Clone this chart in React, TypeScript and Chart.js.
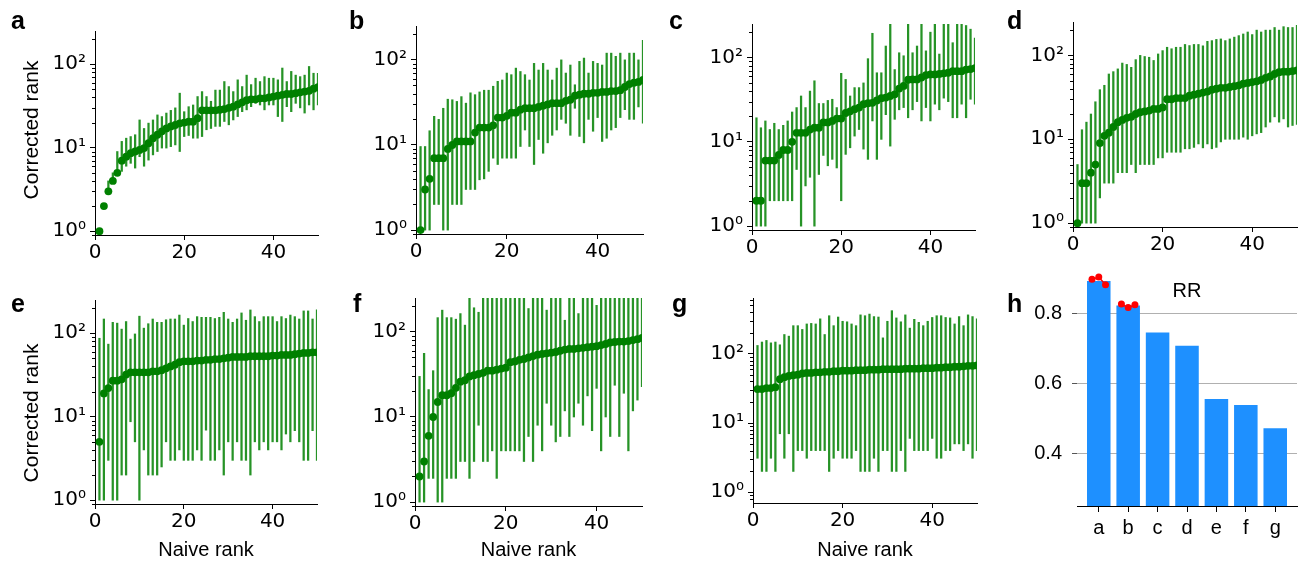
import React, { useEffect, useRef } from "react";
import { Chart, registerables } from "chart.js";

Chart.register(...registerables);
Chart.defaults.color = "#000";
Chart.defaults.font.family = "DejaVu Sans";

// ---------- data ----------
const naiveRank = [1,2,3,4,5,6,7,8,9,10,11,12,13,14,15,16,17,18,19,20,21,22,23,24,25,26,27,28,29,30,31,32,33,34,35,36,37,38,39,40,41,42,43,44,45,46,47,48,49,50];
const xTickValues = [0, 20, 40];

const aMid = [1,2,3,4,5,7,7.8,8.6,9,9.4, 9.9,11.3,13,14.3,15.7,17,18,18.7,19.6,20, 20.5,20.5,22.6,28,28,28,28,28.5,29,30, 31,33,35,37,38,38,39,39,40,41, 42,43,44,44,45,46,47,48,51,53];
const aLo = [1,2,3,4,5,5.2,6,6.5,5.7,7.8, 6,7.1,8.2,9,9.9,9.9,10.3,10.8,9,13.6, 14,13,13,13.6,16.4,17,18,18,20.6,18.8, 21.5,23.6,27,28.4,31,34,32.5,28.4,32.5,32.5, 23.6,20.6,31,27,34,30,26,32.5,28.4,32.5];
const aHi = [1,2,4,5,9,11.9,13,13.6,14.3,21.5, 17,19.7,21.5,24.7,23.6,26,28,30,45,27, 31,32.5,41,47,41,36,49,49,62,54, 47,65,54,74,57,68,62,71,68,68, 65,90,62,82,74,71,74,94,78,78];

const bMid = [1,3,4,7,7,7,9,10,11,11, 11,11,14,16,16,16,17,21,21,22, 24,24,26,27,27,27,28,29,30,31, 31,31,33,34,38,39,40,40,41,41, 42,42,43,43,44,48,52,54,55,58];
const bLo = [1,1,1,2,2,1,1,2,2,2, 3,3,3,3.9,4,4.9,7,5.9,7,7, 7,7,9.6,15,9.6,5.9,11.6,8,10.6,13, 15,20,18,13,27,12.6,10.6,20,14.5,21, 11,12,15,16,21,26,20,20,28,18];
const bHi = [9.6,9.6,14.7,21.7,20,27,34.5,34,32.5,37, 31,41,39,42,44,44,49,56,58,70, 67,80,73,67,58,91,76,91,76,58, 80,100,70,87,51,96,105,70,96,91, 87,120,120,110,120,100,120,120,100,170];

const cMid = [2,2,6,6,6,7,8,8,10,12.8, 12.8,12.8,14,14.7,14.7,17,17,17.7,18.9,18.9, 22,23,24.4,25.5,28,28.7,29,31,33,33.5, 35,36.6,42.8,46,54.5,55,55,58,62,63, 63,64,65,66,69,69,69,72,73,75];
const cLo = [1,1,1,2,2,2,2,2,2,4.7, 1,3,3.8,1,4.1,6.9,5.2,6.2,4.9,2, 7.1,8.5,11.7,14,8.2,6.2,17.7,6.2,10.7,21, 8.9,18.5,24,25.5,19.3,24,30,17.7,25.5,17.7, 28,24,33,30,19.3,19.3,28,19.3,32,28];
const cHi = [19.3,14.7,17.7,14,16.6,14,15.7,17.7,22.6,25.5, 35,25.5,40,53,28.5,28.5,31,32,25.5,65, 55,35,44,44,50,97,194,66,66,137, 300,72,114,105,300,114,137,300,120,200, 300,110,300,300,150,300,300,240,217,170];

const dMid = [1,3,3,4,5,9,11,12,14,16, 17,18,18.5,20,21,21.5,22,23,23,24, 30,30,31,31,31,33,34,35,36,37, 39,40,41,41,42,43,44,46,47,48, 49,51,54,56,60,63,64,64,65,66];
const dLo = [1,1,1,1,1,2,3,3,3,4, 4,4,5,4,5,5,5,5,6,6, 7,7,7,7,7.7,7.7,8,8.8,7.9,8.8, 7.7,8,9.3,10,10,10,10,10.6,10,11, 11.6,12,14,16,18.5,16,17.5,14,14.6,15];
const dHi = [5,13,16,20,28,39,44,60,64,69, 81,78,72,89,100,97,95,87,104,114, 125,120,125,125,135,131,135,135,130,147, 150,155,157,150,157,165,172,180,190,177, 200,190,200,200,215,200,220,215,215,228];

const eMid = [5,19,22,27,27,28,32,34,34,34, 34,34,35,35,36,38,40,42,45,46, 46,46,47,47,48,48,49,49,50,51, 52,52,52,52,53,53,53,53,53,54, 54,55,55,55,56,57,58,58,59,59];
const eLo = [1,1,3,1,1,2,2,8.7,5,1, 4,2,2,2,2.5,5,3,3,4,3, 3,3,4,3,6.9,3,3,4,2,5, 3,5,3,3,2,5,4,5,4,5, 5,4,6.2,5,6.8,5,3,3,6.8,3];
const eHi = [87,148,74,135,132,112,138,85,98,160, 115,130,148,135,135,145,148,148,165,125, 150,138,158,155,155,155,150,155,178,148, 135,148,175,143,190,158,138,158,158,158, 138,158,150,165,158,148,185,185,148,190];

const fMid = [2,3,6,10,15,18,18,19,22,26, 27,30,31,32,33,35,35,36,37,38, 44,45,47,48,50,52,54,55,56,57, 58,60,62,63,63,64,65,66,67,68, 70,72,75,76,77,77,78,80,82,85];
const fLo = [1,1,1.9,1.9,1,1,1.9,1.9,1.9,3, 3,1.9,3,8,3,3,4,1.9,4,4, 4,4,4,3,5.9,3,8,4,14.5,8, 5.1,5.9,11.8,5.9,10,14.5,8,17.7,6.9,21.7, 4,10,5.9,23.6,5.9,19,4,11.8,15.8,22.7];
const fHi = [30,56,21,35,147,180,147,147,141,164, 120,300,192,170,300,300,300,300,300,300, 300,300,300,300,188,300,300,300,180,300, 300,300,137,300,300,164,300,300,300,205, 300,300,300,300,300,300,300,300,300,300];

const gMid = [31,31,32,32,33,43,46,48,49,50, 52,53,53,54,54,55,55,56,56,57, 57,57,58,58,58,59,59,59,60,60, 60,60,60,61,61,61,61,62,62,62, 63,63,64,64,65,65,66,67,67,68];
const gLo = [3.1,2,2,3.1,2,7,3.1,7,2,4, 4,3.1,4,4,4,4,2,3.1,4,3.1, 3.1,3.1,4,2,2,2,3.1,2,4,4, 2,2,4,2,6,4,4,4,4,6, 3.1,3.1,4,4,5,5,4,5,3.1,4];
const gHi = [132,148,156,144,148,135,190,180,255,255, 225,270,275,270,320,190,355,255,340,295, 290,270,255,365,355,375,345,340,170,295, 420,330,290,365,235,315,285,255,295,335, 355,355,335,330,270,345,255,365,345,320];

const rrCategories = ["a", "b", "c", "d", "e", "f", "g"];
const rrValues = [0.892, 0.822, 0.745, 0.707, 0.555, 0.538, 0.472];
const rrTicks = [0.4, 0.6, 0.8];
const replicateOffsets = [-0.23, 0, 0.23];
const rrRepsA = [0.897, 0.903, 0.881];
const rrRepsB = [0.826, 0.816, 0.824];

const superscripts = ["⁰", "¹", "²", "³"];

// ---------- layout (page pixels) ----------
const rankPanels: any[] = [
  { id: "a", mid: aMid, lo: aLo, hi: aHi, left: 0, top: 0, width: 330, height: 265, plotLeft: 95, plotRight: 318, plotTop: 31, plotBottom: 235, yMin: 0.9, yMax: 250, xTitle: false },
  { id: "b", mid: bMid, lo: bLo, hi: bHi, left: 330, top: 0, width: 330, height: 265, plotLeft: 416, plotRight: 643, plotTop: 26, plotBottom: 234, yMin: 0.9, yMax: 250, xTitle: false },
  { id: "c", mid: cMid, lo: cLo, hi: cHi, left: 660, top: 0, width: 330, height: 265, plotLeft: 752, plotRight: 975, plotTop: 24, plotBottom: 230, yMin: 0.9, yMax: 250, xTitle: false },
  { id: "d", mid: dMid, lo: dLo, hi: dHi, left: 990, top: 0, width: 311, height: 265, plotLeft: 1073, plotRight: 1297, plotTop: 22, plotBottom: 227, yMin: 0.9, yMax: 250, xTitle: false },
  { id: "e", mid: eMid, lo: eLo, hi: eHi, left: 0, top: 270, width: 330, height: 290, plotLeft: 95, plotRight: 317, plotTop: 300, plotBottom: 504, yMin: 0.9, yMax: 250, xTitle: true },
  { id: "f", mid: fMid, lo: fLo, hi: fHi, left: 330, top: 270, width: 330, height: 290, plotLeft: 415, plotRight: 642, plotTop: 298, plotBottom: 506, yMin: 0.9, yMax: 250, xTitle: true },
  { id: "g", mid: gMid, lo: gLo, hi: gHi, left: 660, top: 270, width: 330, height: 290, plotLeft: 753, plotRight: 977, plotTop: 298, plotBottom: 503, yMin: 0.72, yMax: 640, xTitle: true },
];
const rrPanel = { left: 1000, top: 245, width: 301, height: 315, plotLeft: 1077, plotRight: 1301, plotTop: 275, plotBottom: 506, yMin: 0.25, yMax: 0.909 };

const panelLetters = [
  { t: "a", x: 11, y: 8 }, { t: "b", x: 349, y: 8 }, { t: "c", x: 669, y: 8 }, { t: "d", x: 1007, y: 8 },
  { t: "e", x: 11, y: 291 }, { t: "f", x: 353, y: 291 }, { t: "g", x: 672, y: 291 }, { t: "h", x: 1007, y: 291 },
];

function logTicks(min: number, max: number) {
  const out: any[] = [];
  for (let e = -1; e <= 3; e++) {
    for (let m = 1; m <= 9; m++) {
      const v = m * Math.pow(10, e);
      if (v >= min * 0.9999 && v <= max * 1.0001) out.push({ value: v, major: m === 1 });
    }
  }
  return out;
}

const minorTickPlugin = {
  id: "minorTicks",
  afterDraw(chart: any) {
    const y = chart.scales.y;
    if (!y || y.type !== "logarithmic") return;
    const ctx = chart.ctx;
    const x0 = chart.chartArea.left;
    ctx.save();
    ctx.strokeStyle = "#000";
    ctx.lineWidth = 1;
    for (const t of y.ticks) {
      if (t.major) continue;
      const py = Math.round(y.getPixelForValue(t.value)) + 0.5;
      ctx.beginPath();
      ctx.moveTo(x0, py);
      ctx.lineTo(x0 - 3, py);
      ctx.stroke();
    }
    ctx.restore();
  },
};

function rankConfig(p: any): any {
  const yAxisWidth = p.plotLeft - p.left;
  const xAxisHeight = p.top + p.height - p.plotBottom;
  return {
    type: "bar",
    data: {
      datasets: [
        {
          type: "scatter",
          data: naiveRank.map((x, i) => ({ x, y: p.mid[i] })),
          pointRadius: 3.9,
          pointHoverRadius: 3.9,
          pointBackgroundColor: "#008000",
          pointBorderColor: "#008000",
          pointBorderWidth: 0,
          order: 0,
          clip: 0,
        },
        {
          type: "bar",
          data: naiveRank.map((x, i) => ({ x, y: [p.lo[i], p.hi[i]] })),
          backgroundColor: "rgba(0,128,0,0.85)",
          barThickness: 1.6,
          borderWidth: 0,
          order: 1,
          clip: 0,
        },
      ],
    },
    options: {
      responsive: false,
      animation: false,
      devicePixelRatio: 1,
      events: [],
      layout: { padding: { top: p.plotTop - p.top, right: p.left + p.width - p.plotRight, bottom: 0, left: 0 } },
      plugins: { legend: { display: false }, tooltip: { enabled: false }, title: { display: false } },
      scales: {
        x: {
          type: "linear",
          min: 0,
          max: 50,
          offset: false,
          afterBuildTicks: (s: any) => { s.ticks = xTickValues.map((v) => ({ value: v })); },
          afterFit: (s: any) => { s.height = xAxisHeight; },
          grid: { drawOnChartArea: false, offset: false, tickLength: 5, tickWidth: 1, tickColor: "#000" },
          border: { display: true, color: "#000", width: 1 },
          ticks: { autoSkip: false, maxRotation: 0, padding: 1, color: "#000", font: { family: "DejaVu Sans", size: 20 } },
          title: {
            display: p.xTitle,
            text: "Naive rank",
            color: "#000",
            font: { family: "Liberation Sans", size: 20, lineHeight: 1 },
            padding: { top: 0, bottom: 0 },
          },
        },
        y: {
          type: "logarithmic",
          min: p.yMin,
          max: p.yMax,
          afterBuildTicks: (s: any) => { s.ticks = logTicks(p.yMin, p.yMax); },
          afterFit: (s: any) => { s.width = yAxisWidth; },
          grid: {
            drawOnChartArea: false,
            tickLength: 5,
            tickWidth: 1,
            tickColor: (c: any) => (c.tick && c.tick.major ? "#000" : "rgba(0,0,0,0)"),
          },
          border: { display: true, color: "#000", width: 1 },
          ticks: {
            autoSkip: false,
            padding: 4,
            color: "#000",
            font: { family: "DejaVu Sans", size: 20 },
            callback: (v: any, i: number, ticks: any[]) =>
              ticks[i] && ticks[i].major ? "10" + superscripts[Math.round(Math.log10(Number(v)))] : "",
          },
        },
      },
    },
    plugins: [minorTickPlugin],
  };
}

function rrConfig(): any {
  const p = rrPanel;
  const yAxisWidth = p.plotLeft - p.left;
  const xAxisHeight = p.top + p.height - p.plotBottom;
  const replicateLine = (catIndex: number, reps: number[]) => ({
    type: "line",
    data: replicateOffsets.map((o, i) => ({ x: catIndex + o, y: reps[i] })),
    borderColor: "#ff0000",
    borderWidth: 1.5,
    pointRadius: 3.5,
    pointBackgroundColor: "#ff0000",
    pointBorderColor: "#ff0000",
    pointBorderWidth: 0,
    tension: 0,
    clip: false,
    order: 0,
  });
  return {
    type: "bar",
    data: {
      datasets: [
        replicateLine(0, rrRepsA),
        replicateLine(1, rrRepsB),
        {
          type: "bar",
          data: rrCategories.map((_, i) => ({ x: i, y: rrValues[i] })),
          backgroundColor: "#1e90ff",
          barPercentage: 1,
          categoryPercentage: 0.8,
          borderWidth: 0,
          order: 1,
        },
      ],
    },
    options: {
      responsive: false,
      animation: false,
      devicePixelRatio: 1,
      events: [],
      layout: { padding: { top: p.plotTop - p.top, right: p.left + p.width - p.plotRight, bottom: 0, left: 0 } },
      plugins: { legend: { display: false }, tooltip: { enabled: false }, title: { display: false } },
      scales: {
        x: {
          type: "linear",
          min: -0.74,
          max: 6.74,
          offset: false,
          afterBuildTicks: (s: any) => { s.ticks = rrCategories.map((_, i) => ({ value: i })); },
          afterFit: (s: any) => { s.height = xAxisHeight; },
          grid: { drawOnChartArea: false, offset: false, tickLength: 6, tickWidth: 1, tickColor: "#000" },
          border: { display: true, color: "#000", width: 1 },
          ticks: {
            autoSkip: false,
            maxRotation: 0,
            padding: 4,
            color: "#000",
            font: { family: "Liberation Sans", size: 20 },
            callback: (v: any) => rrCategories[Math.round(Number(v))] ?? "",
          },
        },
        y: {
          type: "linear",
          min: p.yMin,
          max: p.yMax,
          afterBuildTicks: (s: any) => { s.ticks = rrTicks.map((v) => ({ value: v })); },
          afterFit: (s: any) => { s.width = yAxisWidth; },
          grid: { drawOnChartArea: true, color: "#b0b0b0", lineWidth: 1, tickLength: 5, tickWidth: 1, tickColor: "#555" },
          border: { display: false },
          ticks: {
            autoSkip: false,
            padding: 10,
            color: "#000",
            font: { family: "Liberation Sans", size: 20 },
            callback: (v: any) => Number(v).toFixed(1),
          },
        },
      },
    },
  };
}

function ChartCanvas({ left, top, width, height, makeConfig }: any) {
  const ref = useRef<HTMLCanvasElement | null>(null);
  useEffect(() => {
    if (!ref.current) return;
    const chart = new Chart(ref.current, makeConfig());
    return () => chart.destroy();
  }, []);
  return (
    <canvas
      ref={ref}
      width={width}
      height={height}
      style={{ position: "absolute", left, top, width, height, display: "block" }}
    />
  );
}

const textBase: any = { position: "absolute", color: "#000", whiteSpace: "nowrap" };

export default function App() {
  return (
    <div style={{ position: "absolute", left: 0, top: 0, width: 1301, height: 561, overflow: "hidden", background: "#fff" }}>
      {rankPanels.map((p) => (
        <ChartCanvas key={p.id} left={p.left} top={p.top} width={p.width} height={p.height} makeConfig={() => rankConfig(p)} />
      ))}
      <ChartCanvas left={rrPanel.left} top={rrPanel.top} width={rrPanel.width} height={rrPanel.height} makeConfig={rrConfig} />

      {panelLetters.map((l) => (
        <div key={l.t} style={{ ...textBase, left: l.x, top: l.y, font: "bold 25px 'Liberation Sans', Arial, sans-serif", lineHeight: "25px" }}>
          {l.t}
        </div>
      ))}
      {[130, 413].map((cy) => (
        <div
          key={cy}
          style={{
            ...textBase,
            left: 31 - 100,
            top: cy - 12,
            width: 200,
            height: 24,
            lineHeight: "24px",
            textAlign: "center",
            font: "21px 'Liberation Sans', Arial, sans-serif",
            transform: "rotate(-90deg)",
            transformOrigin: "50% 50%",
          }}
        >
          Corrected rank
        </div>
      ))}
      <div style={{ ...textBase, left: 1187 - 50, top: 278, width: 100, textAlign: "center", font: "20px 'Liberation Sans', Arial, sans-serif", lineHeight: "24px" }}>
        RR
      </div>
    </div>
  );
}
